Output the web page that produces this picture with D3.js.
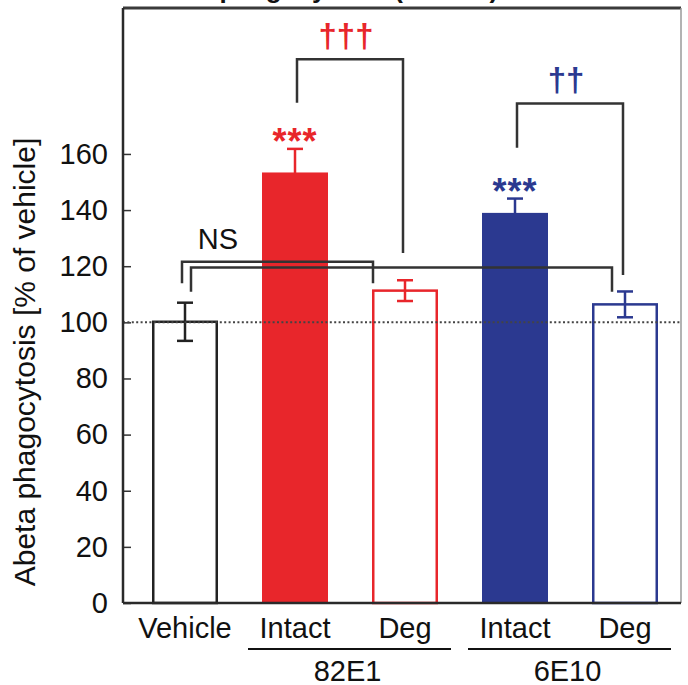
<!DOCTYPE html>
<html>
<head>
<meta charset="utf-8">
<script src="https://cdn.jsdelivr.net/npm/d3@7"></script>
<style>
  body { margin: 0; background: #fff; }
  text { font-family: "Liberation Sans", Arial, sans-serif; fill: #111; }
</style>
</head>
<body>
<div id="chart"></div>
<script>
// bar data
var categories = ["Vehicle", "82E1 Intact", "82E1 Deg", "6E10 Intact", "6E10 Deg"];
var barLabels = ["Vehicle", "Intact", "Deg", "Intact", "Deg"];
var antibody = ["", "82E1", "82E1", "6E10", "6E10"];
var means = [100.2, 153.4, 111.3, 139.0, 106.4];
var errors = [6.8, 8.4, 3.7, 5.1, 4.6];
var stars = ["", "***", "", "***", ""];
var yTicks = [0, 20, 40, 60, 80, 100, 120, 140, 160];
var groups = ["82E1", "6E10"];

// comparison brackets (values in % of vehicle)
var brackets = [
  { from: "82E1 Intact", to: "82E1 Deg", top: 193.7, left: 178.2, right: 124.7, mark: "\u2020\u2020\u2020", group: "82E1" },
  { from: "6E10 Intact", to: "6E10 Deg", top: 178.0, left: 162.2, right: 116.9, mark: "\u2020\u2020", group: "6E10" },
  { from: "Vehicle", to: "82E1 Deg", top: 121.6, left: 113.9, right: 113.9, mark: "", group: "" },
  { from: "Vehicle", to: "6E10 Deg", top: 119.5, left: 110.9, right: 110.9, mark: "", group: "" }
];
var nudge = [[2, -2], [2, -2], [-3, -32], [6, -13]];

var margin = { top: 8, right: 7, bottom: 82, left: 123 },
  width = 688 - margin.left - margin.right,
  height = 685 - margin.top - margin.bottom;

var x = d3.scaleBand()
  .domain(categories)
  .range([7, 557])
  .paddingInner(0.4)
  .paddingOuter(0.2);

var y = d3.scaleLinear()
  .domain([0, 212])
  .range([height, 0]);

var color = d3.scaleOrdinal()
  .domain(["", "82E1", "6E10"])
  .range(["#222222", "#e8262b", "#2b3990"]);

var svg = d3.select("#chart").append("svg")
  .attr("width", 688)
  .attr("height", 685);

// title, mostly cut off at the top edge
svg.append("text")
  .attr("x", 140)
  .attr("y", -2)
  .style("font-size", "26px")
  .style("font-weight", "bold")
  .text("Abeta phagocytosis (in vitro)");

var g = svg.append("g")
  .attr("transform", "translate(" + margin.left + "," + margin.top + ")");

var data = categories.map(function (c, i) {
  return { key: c, label: barLabels[i], ab: antibody[i], mean: means[i], err: errors[i], star: stars[i], filled: antibody[i] !== "" && barLabels[i] === "Intact" };
});

// y axis with inward ticks
var yAxis = d3.axisLeft(y)
  .tickValues(yTicks)
  .tickSizeInner(-8)
  .tickSizeOuter(0)
  .tickPadding(15);

var ax = g.append("g").call(yAxis);
ax.select(".domain").remove();
ax.selectAll(".tick line").attr("stroke", "#333").attr("stroke-width", 1.5);
ax.selectAll(".tick text").style("font-size", "29px").style("font-family", "Liberation Sans, Arial, sans-serif").attr("fill", "#111");

// error bars
var capW = 16;
var eb = g.selectAll(".err")
  .data(data)
  .enter().append("g")
  .attr("class", "err")
  .attr("stroke", function (d) { return color(d.ab); })
  .attr("stroke-width", 2.5);

eb.append("line")
  .attr("x1", function (d) { return x(d.key) + x.bandwidth() / 2; })
  .attr("x2", function (d) { return x(d.key) + x.bandwidth() / 2; })
  .attr("y1", function (d) { return y(d.mean + d.err); })
  .attr("y2", function (d) { return y(d.mean - d.err); });

[1, -1].forEach(function (s) {
  eb.append("line")
    .attr("x1", function (d) { return x(d.key) + x.bandwidth() / 2 - capW / 2; })
    .attr("x2", function (d) { return x(d.key) + x.bandwidth() / 2 + capW / 2; })
    .attr("y1", function (d) { return y(d.mean + s * d.err); })
    .attr("y2", function (d) { return y(d.mean + s * d.err); });
});

// bars
g.selectAll(".bar")
  .data(data)
  .enter().append("rect")
  .attr("class", "bar")
  .attr("x", function (d) { return d.filled ? x(d.key) : x(d.key) + 1.25; })
  .attr("width", function (d) { return d.filled ? x.bandwidth() : x.bandwidth() - 2.5; })
  .attr("y", function (d) { return y(d.mean); })
  .attr("height", function (d) { return y(0) - y(d.mean); })
  .attr("fill", function (d) { return d.filled ? color(d.ab) : "none"; })
  .attr("stroke", function (d) { return d.filled ? "none" : color(d.ab); })
  .attr("stroke-width", 2.5);

// dotted reference line at 100 %
g.append("line")
  .attr("x1", 0)
  .attr("x2", width)
  .attr("y1", y(100))
  .attr("y2", y(100))
  .attr("stroke", "#444")
  .attr("stroke-width", 2)
  .attr("stroke-dasharray", "2,2.4");

// significance stars
g.selectAll(".star")
  .data(data.filter(function (d) { return d.star; }))
  .enter().append("text")
  .attr("class", "star")
  .attr("x", function (d) { return x(d.key) + x.bandwidth() / 2; })
  .attr("y", function (d) { return y(d.mean + d.err) + 5; })
  .attr("text-anchor", "middle")
  .style("font-size", "36px")
  .style("font-weight", "bold")
  .style("letter-spacing", "1px")
  .style("fill", function (d) { return color(d.ab); })
  .text(function (d) { return d.star; });

// brackets
brackets.forEach(function (b, i) {
  var x1 = x(b.from) + x.bandwidth() / 2 + nudge[i][0],
    x2 = x(b.to) + x.bandwidth() / 2 + nudge[i][1];
  g.append("path")
    .attr("d", "M" + x1 + "," + y(b.left) + "V" + y(b.top) + "H" + x2 + "V" + y(b.right))
    .attr("fill", "none")
    .attr("stroke", "#333")
    .attr("stroke-width", 2.5);
  if (b.mark) {
    g.append("text")
      .attr("x", (x1 + x2) / 2 - 4)
      .attr("y", y(b.top) - 12)
      .attr("text-anchor", "middle")
      .style("font-size", "33px")
      .style("font-weight", "bold")
      .style("fill", color(b.group))
      .text(b.mark);
  }
});

g.append("text")
  .attr("x", x("Vehicle") + x.bandwidth())
  .attr("y", y(brackets[2].top) - 13)
  .attr("text-anchor", "middle")
  .style("font-size", "29px")
  .text("NS");

// frame
g.append("line").attr("x1", 0).attr("x2", width).attr("y1", 0).attr("y2", 0)
  .attr("stroke", "#3a3a3a").attr("stroke-width", 3);
g.append("line").attr("x1", width).attr("x2", width).attr("y1", 0).attr("y2", height)
  .attr("stroke", "#9a9a9a").attr("stroke-width", 1.5);
g.append("line").attr("x1", 0).attr("x2", 0).attr("y1", 0).attr("y2", height)
  .attr("stroke", "#2a2a2a").attr("stroke-width", 2.5);
g.append("line").attr("x1", 0).attr("x2", width).attr("y1", height).attr("y2", height)
  .attr("stroke", "#2a2a2a").attr("stroke-width", 2.5);

// x labels
g.selectAll(".xlab")
  .data(data)
  .enter().append("text")
  .attr("class", "xlab")
  .attr("x", function (d) { return x(d.key) + x.bandwidth() / 2; })
  .attr("y", height + 35)
  .attr("text-anchor", "middle")
  .style("font-size", "29px")
  .text(function (d) { return d.label; });

groups.forEach(function (gr) {
  var keys = categories.filter(function (c, i) { return antibody[i] === gr; });
  var a = x(keys[0]) + x.bandwidth() / 2 - 47,
    b = x(keys[keys.length - 1]) + x.bandwidth() / 2 + 46;
  g.append("line")
    .attr("x1", a).attr("x2", b)
    .attr("y1", height + 46).attr("y2", height + 46)
    .attr("stroke", "#111").attr("stroke-width", 2);
  g.append("text")
    .attr("x", (a + b) / 2 - 2)
    .attr("y", height + 78)
    .attr("text-anchor", "middle")
    .style("font-size", "29px")
    .text(gr);
});

// y title
svg.append("text")
  .attr("transform", "translate(35," + 362 + ") rotate(-90)")
  .attr("text-anchor", "middle")
  .style("font-size", "30px")
  .text("Abeta phagocytosis [% of vehicle]");
</script>
</body>
</html>
